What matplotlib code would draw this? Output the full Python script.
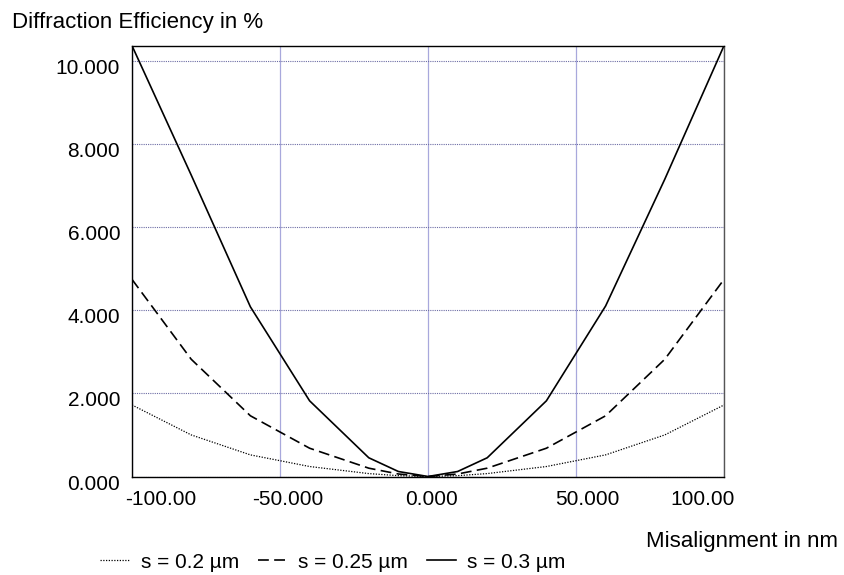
import matplotlib
matplotlib.use("Agg")
import matplotlib.pyplot as plt
from matplotlib.transforms import ScaledTranslation

plt.rcParams['font.family'] = ['Liberation Sans', 'DejaVu Sans']

# ---- data ----
misalignment = [-100, -80, -60, -40, -20, -10, 0, 10, 20, 40, 60, 80, 100]
eff_s02 = [1.72, 1.00, 0.52, 0.24, 0.07, 0.02, 0.0, 0.02, 0.07, 0.24, 0.52, 1.00, 1.72]
eff_s025 = [4.74, 2.82, 1.46, 0.68, 0.20, 0.06, 0.0, 0.06, 0.20, 0.68, 1.46, 2.82, 4.74]
eff_s03 = [10.36, 7.25, 4.08, 1.82, 0.45, 0.12, 0.0, 0.12, 0.45, 1.82, 4.10, 7.15, 10.36]
series_labels = ["s = 0.2 µm", "s = 0.25 µm", "s = 0.3 µm"]
x_ticks = [-100, -50, 0, 50, 100]
x_tick_labels = ["-100.00", "-50.000", "0.000", "50.000", "100.00"]
y_ticks = [0, 2, 4, 6, 8, 10]
y_tick_labels = ["0.000", "2.000", "4.000", "6.000", "8.000", "10.000"]
x_title = "Misalignment in nm"
y_title = "Diffraction Efficiency in %"

W, H = 845, 575
fig = plt.figure(figsize=(W / 100, H / 100), dpi=100)
L, R, B, T = 132, 724, 476.5, 45.7
ax = fig.add_axes([L / W, 1 - B / H, (R - L) / W, (B - T) / H])

l1, = ax.plot(misalignment, eff_s02, color='black', lw=0.9, linestyle=(0, (1, 1.2)))
l2, = ax.plot(misalignment, eff_s025, color='black', lw=1.2, linestyle=(0, (6.5, 3.2)))
l3, = ax.plot(misalignment, eff_s03, color='black', lw=1.2)

ax.set_xlim(-100, 100)
ax.set_ylim(0, 10.36)
ax.set_xticks(x_ticks)
ax.set_xticklabels(x_tick_labels, fontsize=15)
ax.set_yticks(y_ticks)
ax.set_yticklabels(y_tick_labels, fontsize=15)
ax.tick_params(length=0)
ax.tick_params(axis='y', pad=8.5)
ax.tick_params(axis='x', pad=9.5)

ax.grid(True, axis='y', color='#6c6ca4', linestyle=(0, (1, 1)), lw=0.8)
ax.grid(True, axis='x', color='#a8a8dc', linestyle='-', lw=0.9)
ax.set_axisbelow(True)
for s in ax.spines.values():
    s.set_color('black')
    s.set_linewidth(1.0)
ax.spines['right'].set_color('#555555')

# small pixel offsets for tick labels to match reference placement
for lab in ax.get_yticklabels():
    lab.set_transform(lab.get_transform() + ScaledTranslation(0, -5.5 / 100, fig.dpi_scale_trans))
x_shifts = [29, 8, 4, 11, -21]
for lab, dx in zip(ax.get_xticklabels(), x_shifts):
    lab.set_transform(lab.get_transform() + ScaledTranslation(dx / 100, 0, fig.dpi_scale_trans))

fig.text(11.7 / W, 1 - 28.3 / H, y_title, fontsize=16, ha='left', va='baseline')
fig.text(838 / W, 1 - 546.7 / H, x_title, fontsize=16, ha='right', va='baseline')

leg = fig.legend([l1, l2, l3], series_labels, loc='lower left',
                 bbox_to_anchor=(100 / W, 3.5 / H), ncol=3, frameon=False, fontsize=15,
                 borderpad=0, borderaxespad=0, handlelength=1.4, handletextpad=0.55,
                 columnspacing=0.9)

fig.savefig("out.png", dpi=100)
